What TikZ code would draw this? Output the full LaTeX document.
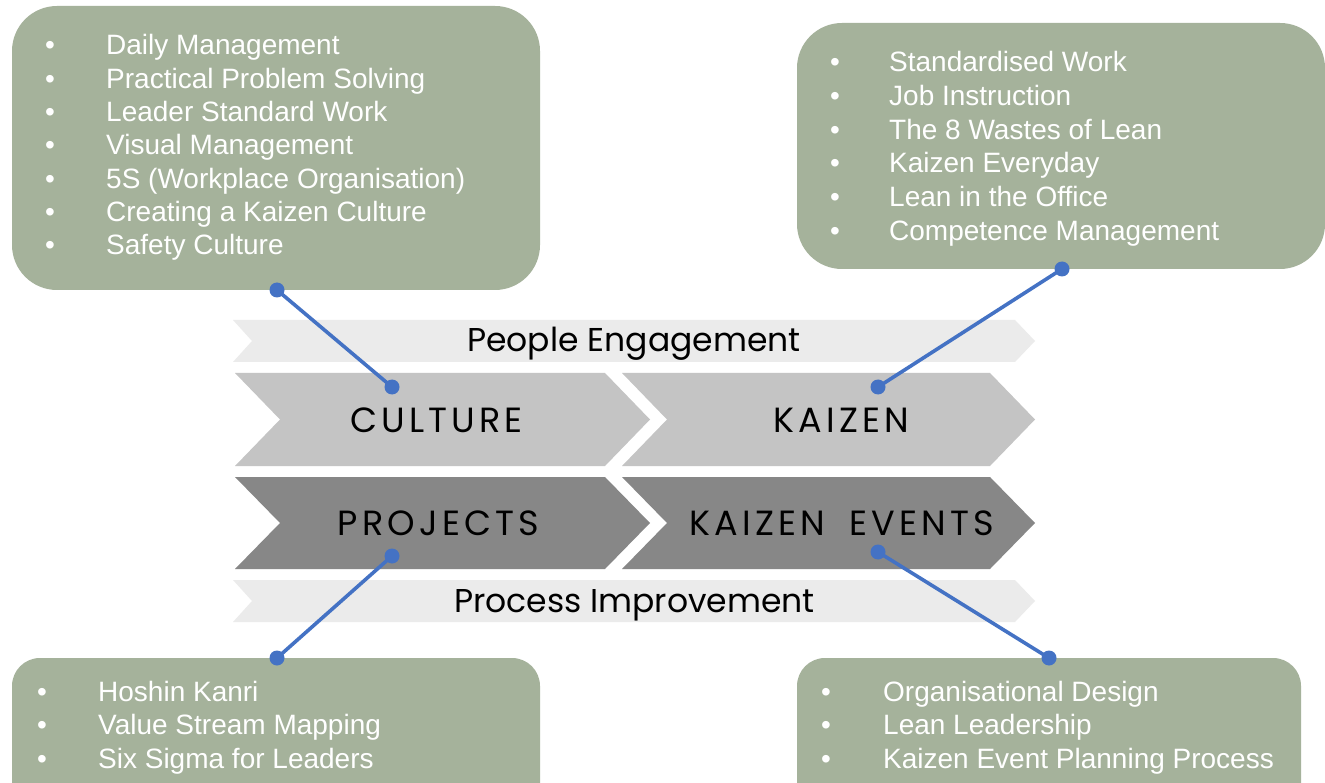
\documentclass[tikz,border=0pt]{standalone}
\usepackage{fontspec}
\setmainfont{Liberation Sans}
\newfontfamily\bandfont{Poppins}
\newfontfamily\chevfont[LetterSpace=12]{Poppins}
\definecolor{boxgreen}{HTML}{A5B29B}
\definecolor{bandgrey}{HTML}{EBEBEB}
\definecolor{midgrey}{HTML}{C4C4C4}
\definecolor{darkgrey}{HTML}{878787}
\definecolor{linkblue}{HTML}{4472C4}
\tikzset{
  topbox/.style={fill=boxgreen, rounded corners=45pt},
  botbox/.style={fill=boxgreen, rounded corners=28pt},
  itemtext/.style={anchor=base west, inner sep=0pt, text=white, font=\fontsize{28}{33}\selectfont},
  bul/.style={anchor=base, inner sep=0pt, text=white, font=\fontsize{28}{33}\selectfont},
  bandlabel/.style={anchor=base, inner sep=0pt, text=black, font=\bandfont\fontsize{33}{40}\selectfont},
  chevlabel/.style={anchor=base, inner sep=0pt, text=black, font=\chevfont\fontsize{35}{42}\selectfont},
  dot/.style={circle, fill=linkblue, minimum size=15pt, inner sep=0pt},
  link/.style={draw=linkblue, line width=3.6pt}
}
\begin{document}
\begin{tikzpicture}[x=1pt,y=-1pt]
\clip (0,0) rectangle (1325,783);
\fill[white] (0,0) rectangle (1325,783);

% boxes
\path[topbox] (12,6) rectangle (540,290);
\path[topbox] (797,23) rectangle (1325,269);
\path[botbox] (12,658) rectangle (540,820);
\path[botbox] (797,658) rectangle (1301,820);

% bands and chevrons
\fill[bandgrey] (233,320) -- (1015,320) -- (1035,341) -- (1015,362) -- (233,362) -- (252,341) -- cycle;
\fill[midgrey] (235,373) -- (605,373) -- (650,419.5) -- (605,466) -- (235,466) -- (280,419.5) -- cycle;
\fill[midgrey] (622,373) -- (990,373) -- (1035,419.5) -- (990,466) -- (622,466) -- (667,419.5) -- cycle;
\fill[darkgrey] (235,477) -- (605,477) -- (650,523) -- (605,569) -- (235,569) -- (280,523) -- cycle;
\fill[darkgrey] (622,477) -- (990,477) -- (1035,523) -- (990,569) -- (622,569) -- (667,523) -- cycle;
\fill[bandgrey] (233,580) -- (1015,580) -- (1035,601) -- (1015,622) -- (233,622) -- (252,601) -- cycle;

% labels
\node[bandlabel] (pe) at (634,352) {People Engagement};
\node[bandlabel] (pi) at (634.5,612) {Process Improvement};
\node[chevlabel] (cu) at (436.5,432) {CULTURE};
\node[chevlabel] (ka) at (841.5,432) {KAIZEN};
\node[chevlabel] (pr) at (438.5,535) {PROJECTS};
\node[chevlabel] (ke) at (842,535) {KAIZEN\hspace{24pt}EVENTS};

% list texts
\foreach \t [count=\i from 0] in {Daily Management, Practical Problem Solving, Leader Standard Work, Visual Management, 5S (Workplace Organisation), Creating a Kaizen Culture, Safety Culture}{
  \node[bul] (tlb\i) at (50,{55+33.3*\i}) {•};
  \node[itemtext] (tl\i) at (106,{55+33.3*\i}) {\t};
}
\foreach \t [count=\i from 0] in {Standardised Work, Job Instruction, The 8 Wastes of Lean, Kaizen Everyday, Lean in the Office, Competence Management}{
  \node[bul] (trb\i) at (835,{71.7+33.7*\i}) {•};
  \node[itemtext] (tr\i) at (889,{71.7+33.7*\i}) {\t};
}
\foreach \t [count=\i from 0] in {Hoshin Kanri, Value Stream Mapping, Six Sigma for Leaders}{
  \node[bul] (blb\i) at (42,{701.7+33.2*\i}) {•};
  \node[itemtext] (bl\i) at (98,{701.7+33.2*\i}) {\t};
}
\foreach \t [count=\i from 0] in {Organisational Design, Lean Leadership, Kaizen Event Planning Process}{
  \node[bul] (brb\i) at (826,{701.7+33.2*\i}) {•};
  \node[itemtext] (br\i) at (883,{701.7+33.2*\i}) {\t};
}

% connectors
\node[dot] (d1a) at (277,290) {};
\node[dot] (d1b) at (392,387) {};
\node[dot] (d2a) at (1062,269) {};
\node[dot] (d2b) at (878,387) {};
\node[dot] (d3a) at (392,556) {};
\node[dot] (d3b) at (277,658) {};
\node[dot] (d4a) at (878,552) {};
\node[dot] (d4b) at (1049,658) {};
\draw[link] (d1a.center) -- (d1b.center);
\draw[link] (d2a.center) -- (d2b.center);
\draw[link] (d3a.center) -- (d3b.center);
\draw[link] (d4a.center) -- (d4b.center);
\end{tikzpicture}
\end{document}
